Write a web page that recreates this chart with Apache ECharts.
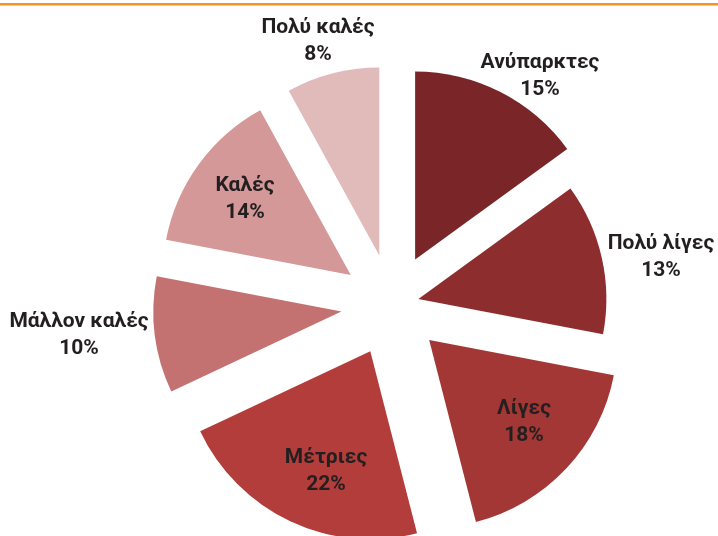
<!DOCTYPE html>
<html>
<head>
<meta charset="utf-8">
<script src="https://cdn.jsdelivr.net/npm/echarts@6/dist/echarts.min.js"></script>
<style>
  html, body { margin: 0; padding: 0; background: #fff; }
  #main { width: 718px; height: 536px; }
</style>
</head>
<body>
<div id="main"></div>
<script>
// data
var categories = ['Ανύπαρκτες', 'Πολύ λίγες', 'Λίγες', 'Μέτριες', 'Μάλλον καλές', 'Καλές', 'Πολύ καλές'];
var values = [15, 13, 18, 22, 10, 14, 8];

// styles
var colors = ['#7a2628', '#8e2d2d', '#a23735', '#b33d3a', '#c37171', '#d39897', '#e0bbba'];
var offsets = [51, 27, 51, 51, 51, 51, 51];
// label centres (px)
var labelAt = [[540, 76], [661, 257], [524, 422], [326, 471], [79, 335], [245, 199], [318, 41]];

var myChart = echarts.init(document.getElementById('main'));

// one pie per distinct offset, other slices left transparent
var groups = [];
offsets.forEach(function (o) { if (groups.indexOf(o) < 0) groups.push(o); });

var series = groups.map(function (off) {
    var data = [];
    for (var i = 0; i < categories.length; i++) {
        var mine = offsets[i] === off;
        data.push({
            name: categories[i],
            value: values[i],
            selected: true,
            itemStyle: { color: mine ? colors[i] : 'rgba(0,0,0,0)' }
        });
    }
    return {
        type: 'pie',
        center: [392, 305],
        radius: 188,
        startAngle: 90,
        clockwise: true,
        selectedMode: 'multiple',
        selectedOffset: off,
        silent: true,
        emphasis: { disabled: true },
        label: { show: false },
        labelLine: { show: false },
        data: data
    };
});

// slice labels
var texts = categories.map(function (name, i) {
    return {
        type: 'text',
        x: labelAt[i][0],
        y: labelAt[i][1],
        z: 10,
        style: {
            text: name + '\n' + values[i] + '%',
            fill: '#231f20',
            fontFamily: 'Roboto',
            fontWeight: 'bold',
            fontSize: 21,
            lineHeight: 27,
            align: 'center',
            verticalAlign: 'middle'
        }
    };
});

myChart.setOption({
    animation: false,
    graphic: [{
        type: 'rect',
        shape: { x: 0, y: 3, width: 718, height: 2.5 },
        style: { fill: '#f7941e' }
    }].concat(texts),
    series: series
});
</script>
</body>
</html>
